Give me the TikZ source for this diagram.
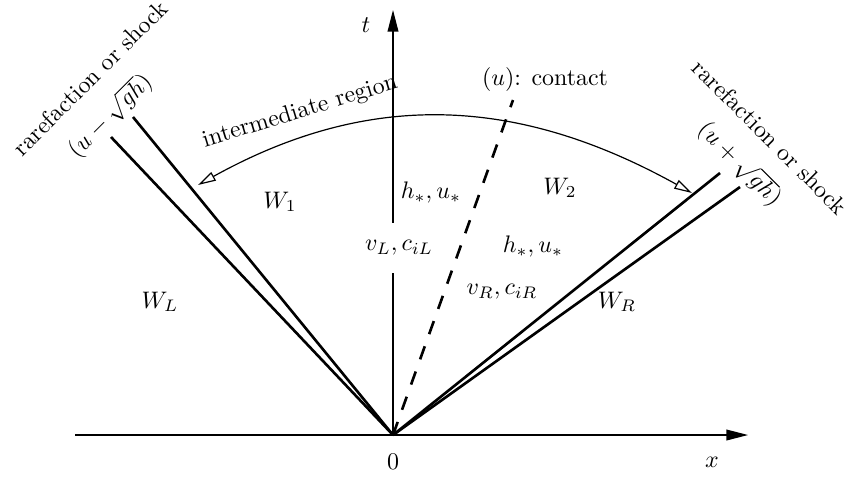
\documentclass[tikz,border=0pt]{standalone}
\usetikzlibrary{arrows.meta}
\begin{document}
\begin{tikzpicture}[x=0.0147cm,y=-0.0147cm,
  axis/.style={line width=0.45pt,-{Triangle[length=9pt,width=4.5pt]}},
  wave/.style={line width=1.1pt},
  contactline/.style={line width=1.1pt,dash pattern=on 5.8pt off 5.4pt},
  regarrow/.style={line width=0.5pt,{Triangle[open,length=7.5pt,width=4pt]}-{Triangle[open,length=7.5pt,width=4pt]}},
  lbl/.style={inner sep=1pt},
  masked/.style={fill=white,inner xsep=2pt,minimum height=21pt}]
\useasboundingbox (0,0) rectangle (849,479);
\coordinate (O) at (393,435);
\coordinate (xs) at (75,435);
\coordinate (xe) at (748,435);
\coordinate (te) at (393,10);
\coordinate (L1) at (111,137);
\coordinate (L2) at (133,117);
\coordinate (R1) at (720,173);
\coordinate (R2) at (740,187);
\coordinate (C) at (513,100);
\coordinate (A) at (198,185);
\coordinate (B) at (692,193);
\draw[axis] (xs) -- (xe);
\draw[axis] (O) -- (te);
\draw[wave] (O) -- (L1);
\draw[wave] (O) -- (L2);
\draw[wave] (O) -- (R1);
\draw[wave] (O) -- (R2);
\draw[contactline] (O) -- (C);
\draw[regarrow] (A) .. controls (371,89) and (519,97) .. (B);
\node[lbl] (tl) at (366,25) {$t$};
\node[lbl] (xl) at (712,462) {$x$};
\node[lbl] (zl) at (393,462) {$0$};
\node[lbl,rotate=17] (ir) at (300,112) {intermediate region};
\node[lbl,rotate=45] (rl) at (90,78) {rarefaction or shock};
\node[lbl,rotate=45] (ul) at (110,116) {$(u-\sqrt{gh})$};
\node[lbl,rotate=-45] (rr) at (770,137) {rarefaction or shock};
\node[lbl,rotate=-45] (ur) at (740,164) {$(u+\sqrt{gh})$};
\node[lbl] (cl) at (545,80) {$(u)$: contact};
\node[lbl] (w1) at (280,202) {$W_1$};
\node[lbl] (w2) at (560,188) {$W_2$};
\node[lbl] (hl) at (431,193) {$h_*,u_*$};
\node[lbl,masked] (vl) at (399,248) {$v_L,c_{iL}$};
\node[lbl] (hr) at (533,247) {$h_*,u_*$};
\node[lbl] (vr) at (502,292) {$v_R,c_{iR}$};
\node[lbl] (wl) at (160,302) {$W_L$};
\node[lbl] (wr) at (617,302) {$W_R$};
\end{tikzpicture}
\end{document}
